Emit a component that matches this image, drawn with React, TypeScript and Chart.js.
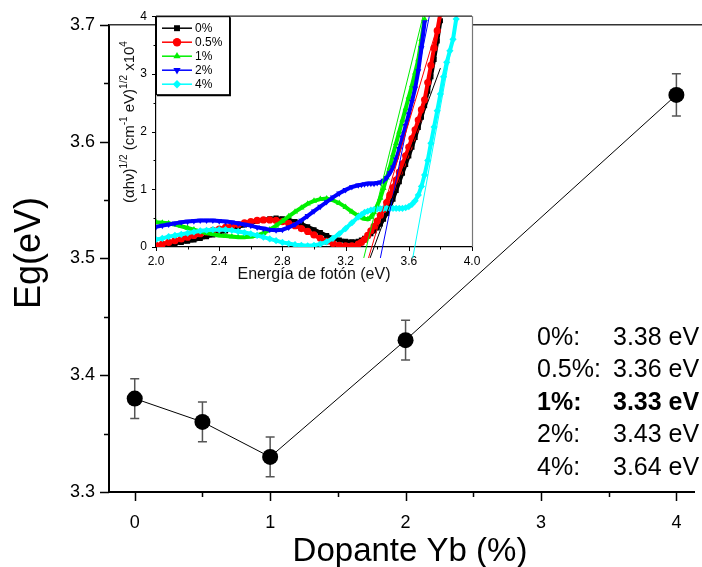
import React, { useEffect, useRef } from 'react';
import { Chart, registerables } from 'chart.js';
import { drawPoint } from 'chart.js/helpers';

Chart.register(...registerables);

const FONT = "'Liberation Sans', Arial, Helvetica, sans-serif";

// ---------- main chart data ----------
const dopant = [0, 0.5, 1, 2, 4];
const bandGap = [3.38, 3.36, 3.33, 3.43, 3.64];
const bandGapErr = [0.017, 0.017, 0.017, 0.017, 0.018];
const xMajorTicks = [0, 1, 2, 3, 4];
const xMinorTicks = [0.5, 1.5, 2.5, 3.5];
const yMajorTicks = [3.3, 3.4, 3.5, 3.6, 3.7];
const yMinorTicks = [3.35, 3.45, 3.55, 3.65];
const annotationLabels = ['0%:', '0.5%:', '1%:', '2%:', '4%:'];
const annotationValues = ['3.38 eV', '3.36 eV', '3.33 eV', '3.43 eV', '3.64 eV'];
const annotationBold = [false, false, true, false, false];

// ---------- inset (Tauc plot) data ----------
const energy = [
  2.00, 2.04, 2.08, 2.12, 2.16, 2.20, 2.24, 2.28, 2.32, 2.36, 2.40,
  2.44, 2.48, 2.52, 2.56, 2.60, 2.64, 2.68, 2.72, 2.76, 2.80,
  2.84, 2.88, 2.92, 2.96, 3.00, 3.04, 3.08, 3.12, 3.16, 3.20, 3.24, 3.28,
  3.30, 3.32, 3.34, 3.36, 3.38, 3.40, 3.42, 3.44, 3.46, 3.48, 3.50,
  3.52, 3.54, 3.56, 3.58, 3.60, 3.62, 3.64, 3.66, 3.68, 3.70,
  3.72, 3.74, 3.76, 3.78, 3.80, 3.82, 3.84, 3.86, 3.88, 3.90,
];
const tauc0 = [
  0.00, 0.02, 0.04, 0.06, 0.08, 0.10, 0.12, 0.15, 0.18, 0.21, 0.25,
  0.28, 0.31, 0.35, 0.38, 0.42, 0.45, 0.47, 0.49, 0.50, 0.49,
  0.47, 0.44, 0.40, 0.35, 0.30, 0.25, 0.20, 0.15, 0.12, 0.10, 0.09, 0.10,
  0.12, 0.15, 0.19, 0.23, 0.28, 0.33, 0.40, 0.48, 0.58, 0.70, 0.83,
  0.98, 1.13, 1.28, 1.43, 1.58, 1.73, 1.90, 2.07, 2.25, 2.45,
  2.70, 2.95, 3.25, 3.57, 3.92, null, null, null, null, null,
];
const tauc05 = [
  0.03, 0.05, 0.08, 0.11, 0.14, 0.17, 0.20, 0.23, 0.26, 0.29, 0.31,
  0.34, 0.37, 0.39, 0.42, 0.44, 0.46, 0.47, 0.47, 0.46, 0.44,
  0.41, 0.37, 0.32, 0.27, 0.21, 0.15, 0.10, 0.06, 0.03, 0.02, 0.02, 0.05,
  0.08, 0.13, 0.20, 0.28, 0.36, 0.45, 0.55, 0.65, 0.77, 0.90, 1.03,
  1.16, 1.30, 1.44, 1.58, 1.73, 1.88, 2.03, 2.20, 2.38, 2.55,
  2.85, 3.15, 3.45, 3.75, 4.05, null, null, null, null, null,
];
const tauc1 = [
  0.43, 0.42, 0.41, 0.39, 0.36, 0.33, 0.30, 0.27, 0.24, 0.22, 0.20,
  0.19, 0.18, 0.17, 0.17, 0.18, 0.20, 0.24, 0.30, 0.37, 0.45,
  0.53, 0.61, 0.68, 0.75, 0.80, 0.83, 0.84, 0.81, 0.76, 0.69, 0.61, 0.54,
  0.51, 0.49, 0.48, 0.52, 0.60, 0.72, 0.85, 1.02, 1.20, 1.38, 1.60,
  1.80, 2.00, 2.20, 2.40, 2.60, 2.80, 3.02, 3.25, 3.60, 3.95,
  null, null, null, null, null, null, null, null, null, null,
];
const tauc2 = [
  0.35, 0.37, 0.39, 0.41, 0.43, 0.44, 0.45, 0.46, 0.46, 0.46, 0.45,
  0.44, 0.43, 0.41, 0.39, 0.37, 0.34, 0.32, 0.30, 0.29, 0.30,
  0.34, 0.39, 0.46, 0.54, 0.62, 0.70, 0.78, 0.86, 0.93, 0.99, 1.04, 1.07,
  1.08, 1.09, 1.10, 1.10, 1.10, 1.11, 1.12, 1.15, 1.20, 1.28, 1.38,
  1.52, 1.70, 1.90, 2.10, 2.30, 2.52, 2.75, 3.05, 3.45, 3.90,
  null, null, null, null, null, null, null, null, null, null,
];
const tauc4 = [
  0.13, 0.15, 0.18, 0.20, 0.22, 0.24, 0.26, 0.28, 0.29, 0.30, 0.30,
  0.30, 0.29, 0.27, 0.25, 0.23, 0.20, 0.17, 0.14, 0.11, 0.08,
  0.06, 0.04, 0.03, 0.02, 0.03, 0.05, 0.09, 0.15, 0.23, 0.32, 0.42, 0.52,
  0.56, 0.60, 0.62, 0.64, 0.65, 0.66, 0.66, 0.67, 0.67, 0.67, 0.67,
  0.67, 0.67, 0.67, 0.68, 0.70, 0.74, 0.80, 0.90, 1.05, 1.25,
  1.50, 1.80, 2.08, 2.36, 2.65, 2.95, 3.20, 3.40, 3.60, 3.95,
];
// linear fits (two end points each)
const fitEnergy0 = [3.355, 3.80];
const fitValue0 = [-0.19, 3.10];
const fitEnergy05 = [3.345, 3.80];
const fitValue05 = [-0.19, 4.0];
const fitEnergy1 = [3.315, 3.69];
const fitValue1 = [-0.19, 4.0];
const fitEnergy2 = [3.42, 3.73];
const fitValue2 = [-0.19, 4.0];
const fitEnergy4 = [3.625, 3.905];
const fitValue4 = [-0.19, 4.0];

const seriesNames = ['0%', '0.5%', '1%', '2%', '4%'];
const seriesColors = ['#000000', '#ff0000', '#00f000', '#0000ff', '#00ffff'];
const seriesStyles = ['rect', 'circle', 'triangle', 'triangle', 'rectRot'];
const seriesRotation = [0, 0, 0, 180, 0];

const insetXMajor = [2.0, 2.4, 2.8, 3.2, 3.6, 4.0];
const insetXMinor = [2.2, 2.6, 3.0, 3.4, 3.8];
const insetYMajor = [0, 1, 2, 3, 4];
const insetYMinor = [0.5, 1.5, 2.5, 3.5];

const pairs = (xs: number[], ys: (number | null)[]) =>
  xs.map((x, i) => ({ x, y: ys[i] }));

// ---------- main chart plugins ----------
const mainPlugin = {
  id: 'mainDecor',
  beforeDatasetsDraw(chart: any) {
    const ctx = chart.ctx;
    const xs = chart.scales.x;
    const ys = chart.scales.y;
    ctx.save();
    ctx.strokeStyle = '#555';
    ctx.lineWidth = 1.5;
    dopant.forEach((d, i) => {
      const px = xs.getPixelForValue(d);
      const top = ys.getPixelForValue(bandGap[i] + bandGapErr[i]);
      const bot = ys.getPixelForValue(bandGap[i] - bandGapErr[i]);
      ctx.beginPath();
      ctx.moveTo(px, top);
      ctx.lineTo(px, bot);
      ctx.moveTo(px - 4.5, top);
      ctx.lineTo(px + 4.5, top);
      ctx.moveTo(px - 4.5, bot);
      ctx.lineTo(px + 4.5, bot);
      ctx.stroke();
    });
    ctx.restore();
  },
  afterDraw(chart: any) {
    const ctx = chart.ctx;
    const xs = chart.scales.x;
    const ys = chart.scales.y;
    const a = chart.chartArea;
    ctx.save();
    // top frame line
    ctx.strokeStyle = '#333';
    ctx.lineWidth = 1.5;
    ctx.beginPath();
    ctx.moveTo(a.left, a.top);
    ctx.lineTo(chart.width, a.top);
    ctx.stroke();
    // tick marks
    ctx.strokeStyle = '#000';
    ctx.lineWidth = 1.5;
    ctx.beginPath();
    xMajorTicks.forEach((v) => {
      const p = Math.round(xs.getPixelForValue(v)) + 0.5;
      ctx.moveTo(p, a.bottom);
      ctx.lineTo(p, a.bottom + 9);
    });
    xMinorTicks.forEach((v) => {
      const p = Math.round(xs.getPixelForValue(v)) + 0.5;
      ctx.moveTo(p, a.bottom);
      ctx.lineTo(p, a.bottom + 5);
    });
    yMajorTicks.forEach((v) => {
      const p = Math.round(ys.getPixelForValue(v)) + 0.5;
      ctx.moveTo(a.left, p);
      ctx.lineTo(a.left - 9, p);
    });
    yMinorTicks.forEach((v) => {
      const p = Math.round(ys.getPixelForValue(v)) + 0.5;
      ctx.moveTo(a.left, p);
      ctx.lineTo(a.left - 5, p);
    });
    ctx.stroke();
    // axis titles
    ctx.fillStyle = '#000';
    ctx.font = `33px ${FONT}`;
    ctx.textAlign = 'center';
    ctx.textBaseline = 'alphabetic';
    ctx.fillText('Dopante Yb (%)', 410, 561);
    ctx.save();
    ctx.translate(40, 253);
    ctx.rotate(-Math.PI / 2);
    ctx.font = `36px ${FONT}`;
    ctx.fillText('Eg(eV)', 0, 0);
    ctx.restore();
    // annotation list
    const rows = [338, 370.5, 403, 435.5, 468];
    ctx.textAlign = 'left';
    ctx.textBaseline = 'middle';
    annotationLabels.forEach((lab, i) => {
      ctx.font = `${annotationBold[i] ? 'bold ' : ''}25px ${FONT}`;
      ctx.fillText(lab, 537, rows[i]);
      ctx.fillText(annotationValues[i], 613, rows[i]);
    });
    ctx.restore();
  },
};

// ---------- inset plugins ----------
const insetPlugin = {
  id: 'insetDecor',
  beforeDraw(chart: any) {
    const ctx = chart.ctx;
    const a = chart.chartArea;
    ctx.save();
    ctx.fillStyle = '#fff';
    ctx.fillRect(a.left, a.top, a.right - a.left, a.bottom - a.top);
    ctx.restore();
  },
  afterDraw(chart: any) {
    const ctx = chart.ctx;
    const a = chart.chartArea;
    const xs = chart.scales.x;
    const ys = chart.scales.y;
    ctx.save();
    // right (gray) and top frame
    ctx.lineWidth = 1.2;
    ctx.strokeStyle = '#777';
    ctx.beginPath();
    ctx.moveTo(a.right + 0.5, a.top);
    ctx.lineTo(a.right + 0.5, a.bottom);
    ctx.stroke();
    ctx.strokeStyle = '#222';
    ctx.beginPath();
    ctx.moveTo(a.left, a.top);
    ctx.lineTo(a.right, a.top);
    ctx.stroke();
    // ticks
    ctx.strokeStyle = '#000';
    ctx.lineWidth = 1;
    ctx.beginPath();
    insetXMajor.forEach((v) => {
      const p = Math.round(xs.getPixelForValue(v)) + 0.5;
      ctx.moveTo(p, a.bottom);
      ctx.lineTo(p, a.bottom + 4);
    });
    insetXMinor.forEach((v) => {
      const p = Math.round(xs.getPixelForValue(v)) + 0.5;
      ctx.moveTo(p, a.bottom);
      ctx.lineTo(p, a.bottom + 2.5);
    });
    insetYMajor.forEach((v) => {
      const p = Math.round(ys.getPixelForValue(v)) + 0.5;
      ctx.moveTo(a.left, p);
      ctx.lineTo(a.left - 4, p);
    });
    insetYMinor.forEach((v) => {
      const p = Math.round(ys.getPixelForValue(v)) + 0.5;
      ctx.moveTo(a.left, p);
      ctx.lineTo(a.left - 2.5, p);
    });
    ctx.stroke();

    // legend box
    const bx = a.left, by = a.top, bw = 73, bh = 78;
    ctx.strokeStyle = '#000';
    ctx.lineWidth = 1;
    ctx.strokeRect(bx + 0.5, by + 0.5, bw, bh);
    ctx.lineWidth = 1.5;
    ctx.beginPath();
    ctx.moveTo(bx + bw + 1.2, by + 1);
    ctx.lineTo(bx + bw + 1.2, by + bh + 1.2);
    ctx.lineTo(bx + 1, by + bh + 1.2);
    ctx.stroke();
    ctx.font = `12px ${FONT}`;
    ctx.textAlign = 'left';
    ctx.textBaseline = 'middle';
    seriesNames.forEach((name, i) => {
      const y = by + 12 + i * 14;
      ctx.strokeStyle = seriesColors[i];
      ctx.fillStyle = seriesColors[i];
      ctx.lineWidth = 1.5;
      ctx.beginPath();
      ctx.moveTo(bx + 6, y);
      ctx.lineTo(bx + 36, y);
      ctx.stroke();
      drawPoint(ctx, { pointStyle: seriesStyles[i], rotation: seriesRotation[i], radius: 4.2, borderWidth: 0 } as any, bx + 21, y);
      ctx.fillStyle = '#000';
      ctx.fillText(name, bx + 39, y + 0.5);
    });

    // titles
    ctx.fillStyle = '#111';
    ctx.font = `16px ${FONT}`;
    ctx.textAlign = 'center';
    ctx.textBaseline = 'middle';
    ctx.fillText('Energía de fotón (eV)', 214, 275);

    const pieces = [
      { t: '(\u03b1h\u03bd)', sup: false },
      { t: '1/2', sup: true },
      { t: ' (cm', sup: false },
      { t: '-1', sup: true },
      { t: ' eV)', sup: false },
      { t: '1/2', sup: true },
      { t: ' x10', sup: false },
      { t: '4', sup: true },
    ];
    const mainF = `15px ${FONT}`;
    const supF = `10px ${FONT}`;
    let total = 0;
    pieces.forEach((p) => {
      ctx.font = p.sup ? supF : mainF;
      total += ctx.measureText(p.t).width;
    });
    ctx.save();
    ctx.translate(30, 122);
    ctx.rotate(-Math.PI / 2);
    ctx.textAlign = 'left';
    ctx.textBaseline = 'middle';
    let cx = -total / 2;
    pieces.forEach((p) => {
      ctx.font = p.sup ? supF : mainF;
      ctx.fillText(p.t, cx, p.sup ? -6 : 0);
      cx += ctx.measureText(p.t).width;
    });
    ctx.restore();
    ctx.restore();
  },
};

function mainConfig(): any {
  return {
    type: 'scatter',
    data: {
      datasets: [
        {
          data: pairs(dopant, bandGap),
          showLine: true,
          borderColor: '#000',
          borderWidth: 1,
          pointRadius: 8,
          pointBackgroundColor: '#000',
          pointBorderColor: '#000',
          pointBorderWidth: 0,
          clip: false,
        },
      ],
    },
    options: {
      animation: false,
      responsive: false,
      devicePixelRatio: 1,
      layout: { padding: { top: 15, left: 0, right: 0, bottom: 0 } },
      plugins: { legend: { display: false }, tooltip: { enabled: false } },
      scales: {
        x: {
          type: 'linear',
          min: -0.19,
          max: 4.13,
          afterBuildTicks: (s: any) => { s.ticks = xMajorTicks.map((v) => ({ value: v })); },
          afterFit: (s: any) => { s.height = 75; },
          grid: { display: false, drawTicks: false },
          border: { display: true, color: '#000', width: 2 },
          ticks: {
            font: { family: FONT, size: 18 }, color: '#000', padding: 20,
            maxRotation: 0, autoSkip: false, callback: (v: any) => String(v),
          },
        },
        y: {
          type: 'linear',
          min: 3.3,
          max: 3.7,
          afterBuildTicks: (s: any) => { s.ticks = yMajorTicks.map((v) => ({ value: v })); },
          afterFit: (s: any) => { s.width = 109; },
          grid: { display: false, drawTicks: false },
          border: { display: true, color: '#000', width: 2 },
          ticks: {
            font: { family: FONT, size: 18 }, color: '#000', padding: 14,
            autoSkip: false, callback: (v: any) => Number(v).toFixed(1),
          },
        },
      },
    },
    plugins: [mainPlugin],
  };
}

function insetConfig(): any {
  const curves = [tauc0, tauc05, tauc1, tauc2, tauc4];
  const fitsX = [fitEnergy0, fitEnergy05, fitEnergy1, fitEnergy2, fitEnergy4];
  const fitsY = [fitValue0, fitValue05, fitValue1, fitValue2, fitValue4];
  const datasets: any[] = [];
  curves.forEach((c, i) => {
    datasets.push({
      data: pairs(energy, c),
      showLine: true,
      borderColor: seriesColors[i],
      borderWidth: 4,
      pointStyle: seriesStyles[i],
      rotation: seriesRotation[i],
      pointRadius: 3.6,
      pointBackgroundColor: seriesColors[i],
      pointBorderWidth: 0,
      order: 10 - i,
      spanGaps: false,
    });
  });
  fitsX.forEach((fx, i) => {
    datasets.push({
      data: pairs(fx, fitsY[i]),
      showLine: true,
      borderColor: seriesColors[i],
      borderWidth: 1,
      pointRadius: 0,
      clip: false,
      order: 0,
    });
  });
  return {
    type: 'scatter',
    data: { datasets },
    options: {
      animation: false,
      responsive: false,
      devicePixelRatio: 1,
      layout: { padding: { top: 15, left: 0, right: 18, bottom: 0 } },
      plugins: { legend: { display: false }, tooltip: { enabled: false } },
      scales: {
        x: {
          type: 'linear',
          min: 2,
          max: 4,
          afterBuildTicks: (s: any) => { s.ticks = insetXMajor.map((v) => ({ value: v })); },
          afterFit: (s: any) => { s.height = 53; },
          grid: { display: false, drawTicks: false },
          border: { display: true, color: '#000', width: 1.2 },
          ticks: {
            font: { family: FONT, size: 12 }, color: '#000', padding: 7,
            maxRotation: 0, autoSkip: false, callback: (v: any) => Number(v).toFixed(1),
          },
        },
        y: {
          type: 'linear',
          min: 0,
          max: 4,
          afterBuildTicks: (s: any) => { s.ticks = insetYMajor.map((v) => ({ value: v })); },
          afterFit: (s: any) => { s.width = 56; },
          grid: { display: false, drawTicks: false },
          border: { display: true, color: '#000', width: 1.2 },
          ticks: {
            font: { family: FONT, size: 12 }, color: '#000', padding: 9,
            autoSkip: false, callback: (v: any) => String(v),
          },
        },
      },
    },
    plugins: [insetPlugin],
  };
}

export default function App() {
  const mainRef = useRef<HTMLCanvasElement>(null);
  const insetRef = useRef<HTMLCanvasElement>(null);
  useEffect(() => {
    const main = new Chart(mainRef.current as HTMLCanvasElement, mainConfig());
    const inset = new Chart(insetRef.current as HTMLCanvasElement, insetConfig());
    return () => {
      main.destroy();
      inset.destroy();
    };
  }, []);
  return (
    <div style={{ position: 'absolute', left: 0, top: 0, width: 702, height: 567, background: '#fff', overflow: 'hidden' }}>
      <canvas ref={mainRef} width={702} height={567} style={{ position: 'absolute', left: 0, top: 0, width: 702, height: 567 }} />
      <canvas ref={insetRef} width={390} height={300} style={{ position: 'absolute', left: 100, top: 0, width: 390, height: 300 }} />
    </div>
  );
}
